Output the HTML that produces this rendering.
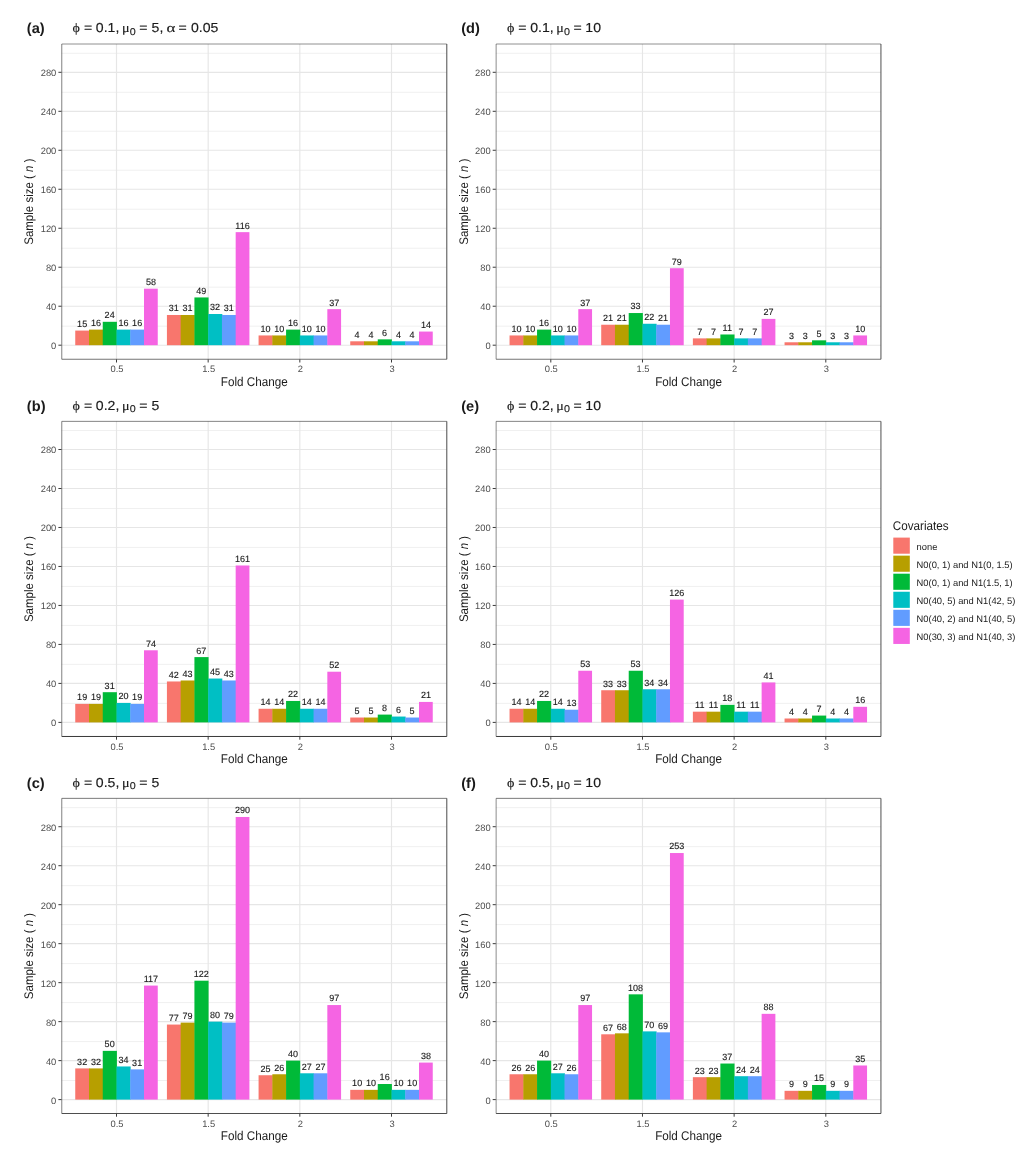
<!DOCTYPE html>
<html><head><meta charset="utf-8"><title>Sample size figure</title><style>
html,body{margin:0;padding:0;background:#fff;}
svg{will-change:transform;}
svg{display:block;}
text{font-family:"Liberation Sans",sans-serif;text-rendering:geometricPrecision;}
.gmin{stroke:#f0f0f0;stroke-width:1;}
.gmaj{stroke:#e6e6e6;stroke-width:1.15;}
.border{fill:none;stroke:#333;stroke-width:1.1;}
.tick{stroke:#3a3a3a;stroke-width:1.0;}
.bl{font-size:9.0px;fill:#1a1a1a;stroke:#1a1a1a;stroke-width:0.13px;stroke-linejoin:round;text-anchor:middle;}
.yl{font-size:9.35px;fill:#4d4d4d;text-anchor:end;}
.xl{font-size:9.35px;fill:#4d4d4d;text-anchor:middle;}
.axt{font-size:11.7px;fill:#1a1a1a;text-anchor:middle;}
.ttl{fill:#1a1a1a;stroke:#1a1a1a;stroke-width:0.15px;stroke-linejoin:round;}
.gr{font-family:"Liberation Serif",serif;}
.sub{font-size:10.15px;}
.tag{font-size:14.6px;font-weight:bold;fill:#1a1a1a;}
.legt{font-size:11.7px;fill:#1a1a1a;}
.legl{font-size:9.35px;fill:#1a1a1a;}
</style></head>
<body><svg width="1036" height="1156" viewBox="0 0 1036 1156">
<rect width="1036" height="1156" fill="#fff"/>
<line x1="61.5" x2="446.5" y1="326.16" y2="326.16" class="gmin"/>
<line x1="61.5" x2="446.5" y1="287.17" y2="287.17" class="gmin"/>
<line x1="61.5" x2="446.5" y1="248.19" y2="248.19" class="gmin"/>
<line x1="61.5" x2="446.5" y1="209.21" y2="209.21" class="gmin"/>
<line x1="61.5" x2="446.5" y1="170.22" y2="170.22" class="gmin"/>
<line x1="61.5" x2="446.5" y1="131.24" y2="131.24" class="gmin"/>
<line x1="61.5" x2="446.5" y1="92.25" y2="92.25" class="gmin"/>
<line x1="61.5" x2="446.5" y1="53.27" y2="53.27" class="gmin"/>
<line x1="61.5" x2="446.5" y1="345.2" y2="345.2" class="gmaj"/>
<line x1="61.5" x2="446.5" y1="306.22" y2="306.22" class="gmaj"/>
<line x1="61.5" x2="446.5" y1="267.23" y2="267.23" class="gmaj"/>
<line x1="61.5" x2="446.5" y1="228.25" y2="228.25" class="gmaj"/>
<line x1="61.5" x2="446.5" y1="189.26" y2="189.26" class="gmaj"/>
<line x1="61.5" x2="446.5" y1="150.28" y2="150.28" class="gmaj"/>
<line x1="61.5" x2="446.5" y1="111.3" y2="111.3" class="gmaj"/>
<line x1="61.5" x2="446.5" y1="72.31" y2="72.31" class="gmaj"/>
<line x1="116.5" x2="116.5" y1="43.9" y2="359.4" class="gmaj"/>
<line x1="208.17" x2="208.17" y1="43.9" y2="359.4" class="gmaj"/>
<line x1="299.83" x2="299.83" y1="43.9" y2="359.4" class="gmaj"/>
<line x1="391.5" x2="391.5" y1="43.9" y2="359.4" class="gmaj"/>
<rect x="75.25" y="330.58" width="14.15" height="14.62" fill="#F8766D"/>
<rect x="89" y="329.61" width="14.15" height="15.59" fill="#B79F00"/>
<rect x="102.75" y="321.81" width="14.15" height="23.39" fill="#00BA38"/>
<rect x="116.5" y="329.61" width="14.15" height="15.59" fill="#00BFC4"/>
<rect x="130.25" y="329.61" width="14.15" height="15.59" fill="#619CFF"/>
<rect x="144" y="288.67" width="13.75" height="56.53" fill="#F564E3"/>
<rect x="166.92" y="314.99" width="14.15" height="30.21" fill="#F8766D"/>
<rect x="180.67" y="314.99" width="14.15" height="30.21" fill="#B79F00"/>
<rect x="194.42" y="297.44" width="14.15" height="47.76" fill="#00BA38"/>
<rect x="208.17" y="314.01" width="14.15" height="31.19" fill="#00BFC4"/>
<rect x="221.92" y="314.99" width="14.15" height="30.21" fill="#619CFF"/>
<rect x="235.67" y="232.15" width="13.75" height="113.05" fill="#F564E3"/>
<rect x="258.58" y="335.45" width="14.15" height="9.75" fill="#F8766D"/>
<rect x="272.33" y="335.45" width="14.15" height="9.75" fill="#B79F00"/>
<rect x="286.08" y="329.61" width="14.15" height="15.59" fill="#00BA38"/>
<rect x="299.83" y="335.45" width="14.15" height="9.75" fill="#00BFC4"/>
<rect x="313.58" y="335.45" width="14.15" height="9.75" fill="#619CFF"/>
<rect x="327.33" y="309.14" width="13.75" height="36.06" fill="#F564E3"/>
<rect x="350.25" y="341.3" width="14.15" height="3.9" fill="#F8766D"/>
<rect x="364" y="341.3" width="14.15" height="3.9" fill="#B79F00"/>
<rect x="377.75" y="339.35" width="14.15" height="5.85" fill="#00BA38"/>
<rect x="391.5" y="341.3" width="14.15" height="3.9" fill="#00BFC4"/>
<rect x="405.25" y="341.3" width="14.15" height="3.9" fill="#619CFF"/>
<rect x="419" y="331.56" width="13.75" height="13.64" fill="#F564E3"/>
<text transform="translate(82.12,326.98) scale(1,1.0)" class="bl">15</text>
<text transform="translate(95.88,326.01) scale(1,1.0)" class="bl">16</text>
<text transform="translate(109.62,318.21) scale(1,1.0)" class="bl">24</text>
<text transform="translate(123.38,326.01) scale(1,1.0)" class="bl">16</text>
<text transform="translate(137.12,326.01) scale(1,1.0)" class="bl">16</text>
<text transform="translate(150.88,285.07) scale(1,1.0)" class="bl">58</text>
<text transform="translate(173.79,311.39) scale(1,1.0)" class="bl">31</text>
<text transform="translate(187.54,311.39) scale(1,1.0)" class="bl">31</text>
<text transform="translate(201.29,293.84) scale(1,1.0)" class="bl">49</text>
<text transform="translate(215.04,310.41) scale(1,1.0)" class="bl">32</text>
<text transform="translate(228.79,311.39) scale(1,1.0)" class="bl">31</text>
<text transform="translate(242.54,228.55) scale(1,1.0)" class="bl">116</text>
<text transform="translate(265.46,331.85) scale(1,1.0)" class="bl">10</text>
<text transform="translate(279.21,331.85) scale(1,1.0)" class="bl">10</text>
<text transform="translate(292.96,326.01) scale(1,1.0)" class="bl">16</text>
<text transform="translate(306.71,331.85) scale(1,1.0)" class="bl">10</text>
<text transform="translate(320.46,331.85) scale(1,1.0)" class="bl">10</text>
<text transform="translate(334.21,305.54) scale(1,1.0)" class="bl">37</text>
<text transform="translate(357.12,337.7) scale(1,1.0)" class="bl">4</text>
<text transform="translate(370.88,337.7) scale(1,1.0)" class="bl">4</text>
<text transform="translate(384.62,335.75) scale(1,1.0)" class="bl">6</text>
<text transform="translate(398.38,337.7) scale(1,1.0)" class="bl">4</text>
<text transform="translate(412.12,337.7) scale(1,1.0)" class="bl">4</text>
<text transform="translate(425.88,327.96) scale(1,1.0)" class="bl">14</text>
<line x1="61.78" x2="61.78" y1="44" y2="359.25" stroke="#333" stroke-width="0.62"/>
<line x1="446.8" x2="446.8" y1="44" y2="359.25" stroke="#333" stroke-width="0.89"/>
<line x1="61.78" x2="446.8" y1="44" y2="44" stroke="#333" stroke-width="0.55"/>
<line x1="61.78" x2="446.8" y1="359.25" y2="359.25" stroke="#333" stroke-width="0.68"/>
<line x1="58.4" x2="61.5" y1="345.2" y2="345.2" class="tick"/>
<text transform="translate(56.3,349.1) scale(1,1.0)" class="yl">0</text>
<line x1="58.4" x2="61.5" y1="306.22" y2="306.22" class="tick"/>
<text transform="translate(56.3,310.12) scale(1,1.0)" class="yl">40</text>
<line x1="58.4" x2="61.5" y1="267.23" y2="267.23" class="tick"/>
<text transform="translate(56.3,271.13) scale(1,1.0)" class="yl">80</text>
<line x1="58.4" x2="61.5" y1="228.25" y2="228.25" class="tick"/>
<text transform="translate(56.3,232.15) scale(1,1.0)" class="yl">120</text>
<line x1="58.4" x2="61.5" y1="189.26" y2="189.26" class="tick"/>
<text transform="translate(56.3,193.16) scale(1,1.0)" class="yl">160</text>
<line x1="58.4" x2="61.5" y1="150.28" y2="150.28" class="tick"/>
<text transform="translate(56.3,154.18) scale(1,1.0)" class="yl">200</text>
<line x1="58.4" x2="61.5" y1="111.3" y2="111.3" class="tick"/>
<text transform="translate(56.3,115.2) scale(1,1.0)" class="yl">240</text>
<line x1="58.4" x2="61.5" y1="72.31" y2="72.31" class="tick"/>
<text transform="translate(56.3,76.21) scale(1,1.0)" class="yl">280</text>
<line x1="116.5" x2="116.5" y1="359.4" y2="362.5" class="tick"/>
<text transform="translate(117,372.3) scale(1,1.0)" class="xl">0.5</text>
<line x1="208.17" x2="208.17" y1="359.4" y2="362.5" class="tick"/>
<text transform="translate(208.67,372.3) scale(1,1.0)" class="xl">1.5</text>
<line x1="299.83" x2="299.83" y1="359.4" y2="362.5" class="tick"/>
<text transform="translate(300.33,372.3) scale(1,1.0)" class="xl">2</text>
<line x1="391.5" x2="391.5" y1="359.4" y2="362.5" class="tick"/>
<text transform="translate(392,372.3) scale(1,1.0)" class="xl">3</text>
<text transform="translate(254.3,385.9) scale(1,1.08)" class="axt">Fold Change</text>
<text transform="translate(33.4,201.65) rotate(-90) scale(1,1.08)" class="axt" style="font-size:11.5px">Sample size ( <tspan font-style="italic">n</tspan> )</text>
<text transform="translate(72.62,32.3) scale(1,0.92)" style="font-family:'Liberation Serif',serif;font-size:14.10px" class="ttl">ϕ</text>
<text transform="translate(83.91,32.3) scale(1,0.92)" style="font-family:'Liberation Sans',sans-serif;font-size:14.10px" class="ttl">=</text>
<text transform="translate(95.85,32.3) scale(1,0.92)" style="font-family:'Liberation Sans',sans-serif;font-size:14.10px" class="ttl">0.1,</text>
<text transform="translate(122.06,32.3) scale(1,0.92)" style="font-family:'Liberation Serif',serif;font-size:14.10px" class="ttl">μ</text>
<text transform="translate(129.78,34.7) scale(1,0.92)" style="font-family:'Liberation Sans',sans-serif;font-size:10.72px" class="ttl">0</text>
<text transform="translate(139.21,32.3) scale(1,0.92)" style="font-family:'Liberation Sans',sans-serif;font-size:14.10px" class="ttl">=</text>
<text transform="translate(151.54,32.3) scale(1,0.92)" style="font-family:'Liberation Sans',sans-serif;font-size:14.10px" class="ttl">5,</text>
<text transform="translate(166.56,32.3) scale(1.2,0.92)" style="font-family:'Liberation Serif',serif;font-size:14.10px" class="ttl">α</text>
<text transform="translate(178.61,32.3) scale(1,0.92)" style="font-family:'Liberation Sans',sans-serif;font-size:14.10px" class="ttl">=</text>
<text transform="translate(190.95,32.3) scale(1,0.92)" style="font-family:'Liberation Sans',sans-serif;font-size:14.10px" class="ttl">0.05</text>
<text x="26.87" y="33.2" class="tag">(a)</text>
<line x1="61.5" x2="446.5" y1="703.36" y2="703.36" class="gmin"/>
<line x1="61.5" x2="446.5" y1="664.37" y2="664.37" class="gmin"/>
<line x1="61.5" x2="446.5" y1="625.39" y2="625.39" class="gmin"/>
<line x1="61.5" x2="446.5" y1="586.41" y2="586.41" class="gmin"/>
<line x1="61.5" x2="446.5" y1="547.42" y2="547.42" class="gmin"/>
<line x1="61.5" x2="446.5" y1="508.44" y2="508.44" class="gmin"/>
<line x1="61.5" x2="446.5" y1="469.45" y2="469.45" class="gmin"/>
<line x1="61.5" x2="446.5" y1="430.47" y2="430.47" class="gmin"/>
<line x1="61.5" x2="446.5" y1="722.4" y2="722.4" class="gmaj"/>
<line x1="61.5" x2="446.5" y1="683.42" y2="683.42" class="gmaj"/>
<line x1="61.5" x2="446.5" y1="644.43" y2="644.43" class="gmaj"/>
<line x1="61.5" x2="446.5" y1="605.45" y2="605.45" class="gmaj"/>
<line x1="61.5" x2="446.5" y1="566.46" y2="566.46" class="gmaj"/>
<line x1="61.5" x2="446.5" y1="527.48" y2="527.48" class="gmaj"/>
<line x1="61.5" x2="446.5" y1="488.5" y2="488.5" class="gmaj"/>
<line x1="61.5" x2="446.5" y1="449.51" y2="449.51" class="gmaj"/>
<line x1="116.5" x2="116.5" y1="421.3" y2="736.6" class="gmaj"/>
<line x1="208.17" x2="208.17" y1="421.3" y2="736.6" class="gmaj"/>
<line x1="299.83" x2="299.83" y1="421.3" y2="736.6" class="gmaj"/>
<line x1="391.5" x2="391.5" y1="421.3" y2="736.6" class="gmaj"/>
<rect x="75.25" y="703.88" width="14.15" height="18.52" fill="#F8766D"/>
<rect x="89" y="703.88" width="14.15" height="18.52" fill="#B79F00"/>
<rect x="102.75" y="692.19" width="14.15" height="30.21" fill="#00BA38"/>
<rect x="116.5" y="702.91" width="14.15" height="19.49" fill="#00BFC4"/>
<rect x="130.25" y="703.88" width="14.15" height="18.52" fill="#619CFF"/>
<rect x="144" y="650.28" width="13.75" height="72.12" fill="#F564E3"/>
<rect x="166.92" y="681.47" width="14.15" height="40.93" fill="#F8766D"/>
<rect x="180.67" y="680.49" width="14.15" height="41.91" fill="#B79F00"/>
<rect x="194.42" y="657.1" width="14.15" height="65.3" fill="#00BA38"/>
<rect x="208.17" y="678.54" width="14.15" height="43.86" fill="#00BFC4"/>
<rect x="221.92" y="680.49" width="14.15" height="41.91" fill="#619CFF"/>
<rect x="235.67" y="565.49" width="13.75" height="156.91" fill="#F564E3"/>
<rect x="258.58" y="708.76" width="14.15" height="13.64" fill="#F8766D"/>
<rect x="272.33" y="708.76" width="14.15" height="13.64" fill="#B79F00"/>
<rect x="286.08" y="700.96" width="14.15" height="21.44" fill="#00BA38"/>
<rect x="299.83" y="708.76" width="14.15" height="13.64" fill="#00BFC4"/>
<rect x="313.58" y="708.76" width="14.15" height="13.64" fill="#619CFF"/>
<rect x="327.33" y="671.72" width="13.75" height="50.68" fill="#F564E3"/>
<rect x="350.25" y="717.53" width="14.15" height="4.87" fill="#F8766D"/>
<rect x="364" y="717.53" width="14.15" height="4.87" fill="#B79F00"/>
<rect x="377.75" y="714.6" width="14.15" height="7.8" fill="#00BA38"/>
<rect x="391.5" y="716.55" width="14.15" height="5.85" fill="#00BFC4"/>
<rect x="405.25" y="717.53" width="14.15" height="4.87" fill="#619CFF"/>
<rect x="419" y="701.93" width="13.75" height="20.47" fill="#F564E3"/>
<text transform="translate(82.12,700.28) scale(1,1.0)" class="bl">19</text>
<text transform="translate(95.88,700.28) scale(1,1.0)" class="bl">19</text>
<text transform="translate(109.62,688.59) scale(1,1.0)" class="bl">31</text>
<text transform="translate(123.38,699.31) scale(1,1.0)" class="bl">20</text>
<text transform="translate(137.12,700.28) scale(1,1.0)" class="bl">19</text>
<text transform="translate(150.88,646.68) scale(1,1.0)" class="bl">74</text>
<text transform="translate(173.79,677.87) scale(1,1.0)" class="bl">42</text>
<text transform="translate(187.54,676.89) scale(1,1.0)" class="bl">43</text>
<text transform="translate(201.29,653.5) scale(1,1.0)" class="bl">67</text>
<text transform="translate(215.04,674.94) scale(1,1.0)" class="bl">45</text>
<text transform="translate(228.79,676.89) scale(1,1.0)" class="bl">43</text>
<text transform="translate(242.54,561.89) scale(1,1.0)" class="bl">161</text>
<text transform="translate(265.46,705.16) scale(1,1.0)" class="bl">14</text>
<text transform="translate(279.21,705.16) scale(1,1.0)" class="bl">14</text>
<text transform="translate(292.96,697.36) scale(1,1.0)" class="bl">22</text>
<text transform="translate(306.71,705.16) scale(1,1.0)" class="bl">14</text>
<text transform="translate(320.46,705.16) scale(1,1.0)" class="bl">14</text>
<text transform="translate(334.21,668.12) scale(1,1.0)" class="bl">52</text>
<text transform="translate(357.12,713.93) scale(1,1.0)" class="bl">5</text>
<text transform="translate(370.88,713.93) scale(1,1.0)" class="bl">5</text>
<text transform="translate(384.62,711) scale(1,1.0)" class="bl">8</text>
<text transform="translate(398.38,712.95) scale(1,1.0)" class="bl">6</text>
<text transform="translate(412.12,713.93) scale(1,1.0)" class="bl">5</text>
<text transform="translate(425.88,698.33) scale(1,1.0)" class="bl">21</text>
<line x1="61.78" x2="61.78" y1="421.37" y2="736.47" stroke="#333" stroke-width="0.62"/>
<line x1="446.8" x2="446.8" y1="421.37" y2="736.47" stroke="#333" stroke-width="0.89"/>
<line x1="61.78" x2="446.8" y1="421.37" y2="421.37" stroke="#333" stroke-width="0.6"/>
<line x1="61.78" x2="446.8" y1="736.47" y2="736.47" stroke="#333" stroke-width="0.98"/>
<line x1="58.4" x2="61.5" y1="722.4" y2="722.4" class="tick"/>
<text transform="translate(56.3,726.3) scale(1,1.0)" class="yl">0</text>
<line x1="58.4" x2="61.5" y1="683.42" y2="683.42" class="tick"/>
<text transform="translate(56.3,687.32) scale(1,1.0)" class="yl">40</text>
<line x1="58.4" x2="61.5" y1="644.43" y2="644.43" class="tick"/>
<text transform="translate(56.3,648.33) scale(1,1.0)" class="yl">80</text>
<line x1="58.4" x2="61.5" y1="605.45" y2="605.45" class="tick"/>
<text transform="translate(56.3,609.35) scale(1,1.0)" class="yl">120</text>
<line x1="58.4" x2="61.5" y1="566.46" y2="566.46" class="tick"/>
<text transform="translate(56.3,570.36) scale(1,1.0)" class="yl">160</text>
<line x1="58.4" x2="61.5" y1="527.48" y2="527.48" class="tick"/>
<text transform="translate(56.3,531.38) scale(1,1.0)" class="yl">200</text>
<line x1="58.4" x2="61.5" y1="488.5" y2="488.5" class="tick"/>
<text transform="translate(56.3,492.4) scale(1,1.0)" class="yl">240</text>
<line x1="58.4" x2="61.5" y1="449.51" y2="449.51" class="tick"/>
<text transform="translate(56.3,453.41) scale(1,1.0)" class="yl">280</text>
<line x1="116.5" x2="116.5" y1="736.6" y2="739.7" class="tick"/>
<text transform="translate(117,749.5) scale(1,1.0)" class="xl">0.5</text>
<line x1="208.17" x2="208.17" y1="736.6" y2="739.7" class="tick"/>
<text transform="translate(208.67,749.5) scale(1,1.0)" class="xl">1.5</text>
<line x1="299.83" x2="299.83" y1="736.6" y2="739.7" class="tick"/>
<text transform="translate(300.33,749.5) scale(1,1.0)" class="xl">2</text>
<line x1="391.5" x2="391.5" y1="736.6" y2="739.7" class="tick"/>
<text transform="translate(392,749.5) scale(1,1.0)" class="xl">3</text>
<text transform="translate(254.3,763.1) scale(1,1.08)" class="axt">Fold Change</text>
<text transform="translate(33.4,578.95) rotate(-90) scale(1,1.08)" class="axt" style="font-size:11.5px">Sample size ( <tspan font-style="italic">n</tspan> )</text>
<text transform="translate(72.62,409.7) scale(1,0.92)" style="font-family:'Liberation Serif',serif;font-size:14.10px" class="ttl">ϕ</text>
<text transform="translate(83.91,409.7) scale(1,0.92)" style="font-family:'Liberation Sans',sans-serif;font-size:14.10px" class="ttl">=</text>
<text transform="translate(95.85,409.7) scale(1,0.92)" style="font-family:'Liberation Sans',sans-serif;font-size:14.10px" class="ttl">0.2,</text>
<text transform="translate(122.06,409.7) scale(1,0.92)" style="font-family:'Liberation Serif',serif;font-size:14.10px" class="ttl">μ</text>
<text transform="translate(129.78,412.1) scale(1,0.92)" style="font-family:'Liberation Sans',sans-serif;font-size:10.72px" class="ttl">0</text>
<text transform="translate(139.21,409.7) scale(1,0.92)" style="font-family:'Liberation Sans',sans-serif;font-size:14.10px" class="ttl">=</text>
<text transform="translate(151.54,409.7) scale(1,0.92)" style="font-family:'Liberation Sans',sans-serif;font-size:14.10px" class="ttl">5</text>
<text x="26.87" y="410.6" class="tag">(b)</text>
<line x1="61.5" x2="446.5" y1="1080.56" y2="1080.56" class="gmin"/>
<line x1="61.5" x2="446.5" y1="1041.57" y2="1041.57" class="gmin"/>
<line x1="61.5" x2="446.5" y1="1002.59" y2="1002.59" class="gmin"/>
<line x1="61.5" x2="446.5" y1="963.61" y2="963.61" class="gmin"/>
<line x1="61.5" x2="446.5" y1="924.62" y2="924.62" class="gmin"/>
<line x1="61.5" x2="446.5" y1="885.64" y2="885.64" class="gmin"/>
<line x1="61.5" x2="446.5" y1="846.65" y2="846.65" class="gmin"/>
<line x1="61.5" x2="446.5" y1="807.67" y2="807.67" class="gmin"/>
<line x1="61.5" x2="446.5" y1="1099.6" y2="1099.6" class="gmaj"/>
<line x1="61.5" x2="446.5" y1="1060.62" y2="1060.62" class="gmaj"/>
<line x1="61.5" x2="446.5" y1="1021.63" y2="1021.63" class="gmaj"/>
<line x1="61.5" x2="446.5" y1="982.65" y2="982.65" class="gmaj"/>
<line x1="61.5" x2="446.5" y1="943.66" y2="943.66" class="gmaj"/>
<line x1="61.5" x2="446.5" y1="904.68" y2="904.68" class="gmaj"/>
<line x1="61.5" x2="446.5" y1="865.7" y2="865.7" class="gmaj"/>
<line x1="61.5" x2="446.5" y1="826.71" y2="826.71" class="gmaj"/>
<line x1="116.5" x2="116.5" y1="798.5" y2="1113.6" class="gmaj"/>
<line x1="208.17" x2="208.17" y1="798.5" y2="1113.6" class="gmaj"/>
<line x1="299.83" x2="299.83" y1="798.5" y2="1113.6" class="gmaj"/>
<line x1="391.5" x2="391.5" y1="798.5" y2="1113.6" class="gmaj"/>
<rect x="75.25" y="1068.41" width="14.15" height="31.19" fill="#F8766D"/>
<rect x="89" y="1068.41" width="14.15" height="31.19" fill="#B79F00"/>
<rect x="102.75" y="1050.87" width="14.15" height="48.73" fill="#00BA38"/>
<rect x="116.5" y="1066.46" width="14.15" height="33.14" fill="#00BFC4"/>
<rect x="130.25" y="1069.39" width="14.15" height="30.21" fill="#619CFF"/>
<rect x="144" y="985.57" width="13.75" height="114.03" fill="#F564E3"/>
<rect x="166.92" y="1024.56" width="14.15" height="75.04" fill="#F8766D"/>
<rect x="180.67" y="1022.61" width="14.15" height="76.99" fill="#B79F00"/>
<rect x="194.42" y="980.7" width="14.15" height="118.9" fill="#00BA38"/>
<rect x="208.17" y="1021.63" width="14.15" height="77.97" fill="#00BFC4"/>
<rect x="221.92" y="1022.61" width="14.15" height="76.99" fill="#619CFF"/>
<rect x="235.67" y="816.97" width="13.75" height="282.63" fill="#F564E3"/>
<rect x="258.58" y="1075.23" width="14.15" height="24.37" fill="#F8766D"/>
<rect x="272.33" y="1074.26" width="14.15" height="25.34" fill="#B79F00"/>
<rect x="286.08" y="1060.62" width="14.15" height="38.98" fill="#00BA38"/>
<rect x="299.83" y="1073.29" width="14.15" height="26.31" fill="#00BFC4"/>
<rect x="313.58" y="1073.29" width="14.15" height="26.31" fill="#619CFF"/>
<rect x="327.33" y="1005.06" width="13.75" height="94.54" fill="#F564E3"/>
<rect x="350.25" y="1089.85" width="14.15" height="9.75" fill="#F8766D"/>
<rect x="364" y="1089.85" width="14.15" height="9.75" fill="#B79F00"/>
<rect x="377.75" y="1084.01" width="14.15" height="15.59" fill="#00BA38"/>
<rect x="391.5" y="1089.85" width="14.15" height="9.75" fill="#00BFC4"/>
<rect x="405.25" y="1089.85" width="14.15" height="9.75" fill="#619CFF"/>
<rect x="419" y="1062.57" width="13.75" height="37.03" fill="#F564E3"/>
<text transform="translate(82.12,1064.81) scale(1,1.0)" class="bl">32</text>
<text transform="translate(95.88,1064.81) scale(1,1.0)" class="bl">32</text>
<text transform="translate(109.62,1047.27) scale(1,1.0)" class="bl">50</text>
<text transform="translate(123.38,1062.86) scale(1,1.0)" class="bl">34</text>
<text transform="translate(137.12,1065.79) scale(1,1.0)" class="bl">31</text>
<text transform="translate(150.88,981.97) scale(1,1.0)" class="bl">117</text>
<text transform="translate(173.79,1020.96) scale(1,1.0)" class="bl">77</text>
<text transform="translate(187.54,1019.01) scale(1,1.0)" class="bl">79</text>
<text transform="translate(201.29,977.1) scale(1,1.0)" class="bl">122</text>
<text transform="translate(215.04,1018.03) scale(1,1.0)" class="bl">80</text>
<text transform="translate(228.79,1019.01) scale(1,1.0)" class="bl">79</text>
<text transform="translate(242.54,813.37) scale(1,1.0)" class="bl">290</text>
<text transform="translate(265.46,1071.63) scale(1,1.0)" class="bl">25</text>
<text transform="translate(279.21,1070.66) scale(1,1.0)" class="bl">26</text>
<text transform="translate(292.96,1057.02) scale(1,1.0)" class="bl">40</text>
<text transform="translate(306.71,1069.69) scale(1,1.0)" class="bl">27</text>
<text transform="translate(320.46,1069.69) scale(1,1.0)" class="bl">27</text>
<text transform="translate(334.21,1001.46) scale(1,1.0)" class="bl">97</text>
<text transform="translate(357.12,1086.25) scale(1,1.0)" class="bl">10</text>
<text transform="translate(370.88,1086.25) scale(1,1.0)" class="bl">10</text>
<text transform="translate(384.62,1080.41) scale(1,1.0)" class="bl">16</text>
<text transform="translate(398.38,1086.25) scale(1,1.0)" class="bl">10</text>
<text transform="translate(412.12,1086.25) scale(1,1.0)" class="bl">10</text>
<text transform="translate(425.88,1058.97) scale(1,1.0)" class="bl">38</text>
<line x1="61.78" x2="61.78" y1="798.36" y2="1113.5" stroke="#333" stroke-width="0.62"/>
<line x1="446.8" x2="446.8" y1="798.36" y2="1113.5" stroke="#333" stroke-width="0.89"/>
<line x1="61.78" x2="446.8" y1="798.36" y2="798.36" stroke="#333" stroke-width="0.65"/>
<line x1="61.78" x2="446.8" y1="1113.5" y2="1113.5" stroke="#333" stroke-width="0.87"/>
<line x1="58.4" x2="61.5" y1="1099.6" y2="1099.6" class="tick"/>
<text transform="translate(56.3,1103.5) scale(1,1.0)" class="yl">0</text>
<line x1="58.4" x2="61.5" y1="1060.62" y2="1060.62" class="tick"/>
<text transform="translate(56.3,1064.52) scale(1,1.0)" class="yl">40</text>
<line x1="58.4" x2="61.5" y1="1021.63" y2="1021.63" class="tick"/>
<text transform="translate(56.3,1025.53) scale(1,1.0)" class="yl">80</text>
<line x1="58.4" x2="61.5" y1="982.65" y2="982.65" class="tick"/>
<text transform="translate(56.3,986.55) scale(1,1.0)" class="yl">120</text>
<line x1="58.4" x2="61.5" y1="943.66" y2="943.66" class="tick"/>
<text transform="translate(56.3,947.56) scale(1,1.0)" class="yl">160</text>
<line x1="58.4" x2="61.5" y1="904.68" y2="904.68" class="tick"/>
<text transform="translate(56.3,908.58) scale(1,1.0)" class="yl">200</text>
<line x1="58.4" x2="61.5" y1="865.7" y2="865.7" class="tick"/>
<text transform="translate(56.3,869.6) scale(1,1.0)" class="yl">240</text>
<line x1="58.4" x2="61.5" y1="826.71" y2="826.71" class="tick"/>
<text transform="translate(56.3,830.61) scale(1,1.0)" class="yl">280</text>
<line x1="116.5" x2="116.5" y1="1113.6" y2="1116.7" class="tick"/>
<text transform="translate(117,1126.5) scale(1,1.0)" class="xl">0.5</text>
<line x1="208.17" x2="208.17" y1="1113.6" y2="1116.7" class="tick"/>
<text transform="translate(208.67,1126.5) scale(1,1.0)" class="xl">1.5</text>
<line x1="299.83" x2="299.83" y1="1113.6" y2="1116.7" class="tick"/>
<text transform="translate(300.33,1126.5) scale(1,1.0)" class="xl">2</text>
<line x1="391.5" x2="391.5" y1="1113.6" y2="1116.7" class="tick"/>
<text transform="translate(392,1126.5) scale(1,1.0)" class="xl">3</text>
<text transform="translate(254.3,1140.1) scale(1,1.08)" class="axt">Fold Change</text>
<text transform="translate(33.4,956.05) rotate(-90) scale(1,1.08)" class="axt" style="font-size:11.5px">Sample size ( <tspan font-style="italic">n</tspan> )</text>
<text transform="translate(72.62,786.9) scale(1,0.92)" style="font-family:'Liberation Serif',serif;font-size:14.10px" class="ttl">ϕ</text>
<text transform="translate(83.91,786.9) scale(1,0.92)" style="font-family:'Liberation Sans',sans-serif;font-size:14.10px" class="ttl">=</text>
<text transform="translate(95.85,786.9) scale(1,0.92)" style="font-family:'Liberation Sans',sans-serif;font-size:14.10px" class="ttl">0.5,</text>
<text transform="translate(122.06,786.9) scale(1,0.92)" style="font-family:'Liberation Serif',serif;font-size:14.10px" class="ttl">μ</text>
<text transform="translate(129.78,789.3) scale(1,0.92)" style="font-family:'Liberation Sans',sans-serif;font-size:10.72px" class="ttl">0</text>
<text transform="translate(139.21,786.9) scale(1,0.92)" style="font-family:'Liberation Sans',sans-serif;font-size:14.10px" class="ttl">=</text>
<text transform="translate(151.54,786.9) scale(1,0.92)" style="font-family:'Liberation Sans',sans-serif;font-size:14.10px" class="ttl">5</text>
<text x="26.87" y="787.8" class="tag">(c)</text>
<line x1="495.8" x2="880.8" y1="326.16" y2="326.16" class="gmin"/>
<line x1="495.8" x2="880.8" y1="287.17" y2="287.17" class="gmin"/>
<line x1="495.8" x2="880.8" y1="248.19" y2="248.19" class="gmin"/>
<line x1="495.8" x2="880.8" y1="209.21" y2="209.21" class="gmin"/>
<line x1="495.8" x2="880.8" y1="170.22" y2="170.22" class="gmin"/>
<line x1="495.8" x2="880.8" y1="131.24" y2="131.24" class="gmin"/>
<line x1="495.8" x2="880.8" y1="92.25" y2="92.25" class="gmin"/>
<line x1="495.8" x2="880.8" y1="53.27" y2="53.27" class="gmin"/>
<line x1="495.8" x2="880.8" y1="345.2" y2="345.2" class="gmaj"/>
<line x1="495.8" x2="880.8" y1="306.22" y2="306.22" class="gmaj"/>
<line x1="495.8" x2="880.8" y1="267.23" y2="267.23" class="gmaj"/>
<line x1="495.8" x2="880.8" y1="228.25" y2="228.25" class="gmaj"/>
<line x1="495.8" x2="880.8" y1="189.26" y2="189.26" class="gmaj"/>
<line x1="495.8" x2="880.8" y1="150.28" y2="150.28" class="gmaj"/>
<line x1="495.8" x2="880.8" y1="111.3" y2="111.3" class="gmaj"/>
<line x1="495.8" x2="880.8" y1="72.31" y2="72.31" class="gmaj"/>
<line x1="550.8" x2="550.8" y1="43.9" y2="359.4" class="gmaj"/>
<line x1="642.47" x2="642.47" y1="43.9" y2="359.4" class="gmaj"/>
<line x1="734.13" x2="734.13" y1="43.9" y2="359.4" class="gmaj"/>
<line x1="825.8" x2="825.8" y1="43.9" y2="359.4" class="gmaj"/>
<rect x="509.55" y="335.45" width="14.15" height="9.75" fill="#F8766D"/>
<rect x="523.3" y="335.45" width="14.15" height="9.75" fill="#B79F00"/>
<rect x="537.05" y="329.61" width="14.15" height="15.59" fill="#00BA38"/>
<rect x="550.8" y="335.45" width="14.15" height="9.75" fill="#00BFC4"/>
<rect x="564.55" y="335.45" width="14.15" height="9.75" fill="#619CFF"/>
<rect x="578.3" y="309.14" width="13.75" height="36.06" fill="#F564E3"/>
<rect x="601.22" y="324.73" width="14.15" height="20.47" fill="#F8766D"/>
<rect x="614.97" y="324.73" width="14.15" height="20.47" fill="#B79F00"/>
<rect x="628.72" y="313.04" width="14.15" height="32.16" fill="#00BA38"/>
<rect x="642.47" y="323.76" width="14.15" height="21.44" fill="#00BFC4"/>
<rect x="656.22" y="324.73" width="14.15" height="20.47" fill="#619CFF"/>
<rect x="669.97" y="268.21" width="13.75" height="76.99" fill="#F564E3"/>
<rect x="692.88" y="338.38" width="14.15" height="6.82" fill="#F8766D"/>
<rect x="706.63" y="338.38" width="14.15" height="6.82" fill="#B79F00"/>
<rect x="720.38" y="334.48" width="14.15" height="10.72" fill="#00BA38"/>
<rect x="734.13" y="338.38" width="14.15" height="6.82" fill="#00BFC4"/>
<rect x="747.88" y="338.38" width="14.15" height="6.82" fill="#619CFF"/>
<rect x="761.63" y="318.89" width="13.75" height="26.31" fill="#F564E3"/>
<rect x="784.55" y="342.28" width="14.15" height="2.92" fill="#F8766D"/>
<rect x="798.3" y="342.28" width="14.15" height="2.92" fill="#B79F00"/>
<rect x="812.05" y="340.33" width="14.15" height="4.87" fill="#00BA38"/>
<rect x="825.8" y="342.28" width="14.15" height="2.92" fill="#00BFC4"/>
<rect x="839.55" y="342.28" width="14.15" height="2.92" fill="#619CFF"/>
<rect x="853.3" y="335.45" width="13.75" height="9.75" fill="#F564E3"/>
<text transform="translate(516.42,331.85) scale(1,1.0)" class="bl">10</text>
<text transform="translate(530.17,331.85) scale(1,1.0)" class="bl">10</text>
<text transform="translate(543.92,326.01) scale(1,1.0)" class="bl">16</text>
<text transform="translate(557.67,331.85) scale(1,1.0)" class="bl">10</text>
<text transform="translate(571.42,331.85) scale(1,1.0)" class="bl">10</text>
<text transform="translate(585.17,305.54) scale(1,1.0)" class="bl">37</text>
<text transform="translate(608.09,321.13) scale(1,1.0)" class="bl">21</text>
<text transform="translate(621.84,321.13) scale(1,1.0)" class="bl">21</text>
<text transform="translate(635.59,309.44) scale(1,1.0)" class="bl">33</text>
<text transform="translate(649.34,320.16) scale(1,1.0)" class="bl">22</text>
<text transform="translate(663.09,321.13) scale(1,1.0)" class="bl">21</text>
<text transform="translate(676.84,264.61) scale(1,1.0)" class="bl">79</text>
<text transform="translate(699.76,334.78) scale(1,1.0)" class="bl">7</text>
<text transform="translate(713.51,334.78) scale(1,1.0)" class="bl">7</text>
<text transform="translate(727.26,330.88) scale(1,1.0)" class="bl">11</text>
<text transform="translate(741.01,334.78) scale(1,1.0)" class="bl">7</text>
<text transform="translate(754.76,334.78) scale(1,1.0)" class="bl">7</text>
<text transform="translate(768.51,315.29) scale(1,1.0)" class="bl">27</text>
<text transform="translate(791.42,338.68) scale(1,1.0)" class="bl">3</text>
<text transform="translate(805.17,338.68) scale(1,1.0)" class="bl">3</text>
<text transform="translate(818.92,336.73) scale(1,1.0)" class="bl">5</text>
<text transform="translate(832.67,338.68) scale(1,1.0)" class="bl">3</text>
<text transform="translate(846.42,338.68) scale(1,1.0)" class="bl">3</text>
<text transform="translate(860.17,331.85) scale(1,1.0)" class="bl">10</text>
<line x1="496.14" x2="496.14" y1="44" y2="359.25" stroke="#333" stroke-width="0.56"/>
<line x1="880.95" x2="880.95" y1="44" y2="359.25" stroke="#333" stroke-width="0.86"/>
<line x1="496.14" x2="880.95" y1="44" y2="44" stroke="#333" stroke-width="0.55"/>
<line x1="496.14" x2="880.95" y1="359.25" y2="359.25" stroke="#333" stroke-width="0.68"/>
<line x1="492.7" x2="495.8" y1="345.2" y2="345.2" class="tick"/>
<text transform="translate(490.6,349.1) scale(1,1.0)" class="yl">0</text>
<line x1="492.7" x2="495.8" y1="306.22" y2="306.22" class="tick"/>
<text transform="translate(490.6,310.12) scale(1,1.0)" class="yl">40</text>
<line x1="492.7" x2="495.8" y1="267.23" y2="267.23" class="tick"/>
<text transform="translate(490.6,271.13) scale(1,1.0)" class="yl">80</text>
<line x1="492.7" x2="495.8" y1="228.25" y2="228.25" class="tick"/>
<text transform="translate(490.6,232.15) scale(1,1.0)" class="yl">120</text>
<line x1="492.7" x2="495.8" y1="189.26" y2="189.26" class="tick"/>
<text transform="translate(490.6,193.16) scale(1,1.0)" class="yl">160</text>
<line x1="492.7" x2="495.8" y1="150.28" y2="150.28" class="tick"/>
<text transform="translate(490.6,154.18) scale(1,1.0)" class="yl">200</text>
<line x1="492.7" x2="495.8" y1="111.3" y2="111.3" class="tick"/>
<text transform="translate(490.6,115.2) scale(1,1.0)" class="yl">240</text>
<line x1="492.7" x2="495.8" y1="72.31" y2="72.31" class="tick"/>
<text transform="translate(490.6,76.21) scale(1,1.0)" class="yl">280</text>
<line x1="550.8" x2="550.8" y1="359.4" y2="362.5" class="tick"/>
<text transform="translate(551.3,372.3) scale(1,1.0)" class="xl">0.5</text>
<line x1="642.47" x2="642.47" y1="359.4" y2="362.5" class="tick"/>
<text transform="translate(642.97,372.3) scale(1,1.0)" class="xl">1.5</text>
<line x1="734.13" x2="734.13" y1="359.4" y2="362.5" class="tick"/>
<text transform="translate(734.63,372.3) scale(1,1.0)" class="xl">2</text>
<line x1="825.8" x2="825.8" y1="359.4" y2="362.5" class="tick"/>
<text transform="translate(826.3,372.3) scale(1,1.0)" class="xl">3</text>
<text transform="translate(688.6,385.9) scale(1,1.08)" class="axt">Fold Change</text>
<text transform="translate(467.7,201.65) rotate(-90) scale(1,1.08)" class="axt" style="font-size:11.5px">Sample size ( <tspan font-style="italic">n</tspan> )</text>
<text transform="translate(506.92,32.3) scale(1,0.92)" style="font-family:'Liberation Serif',serif;font-size:14.10px" class="ttl">ϕ</text>
<text transform="translate(518.21,32.3) scale(1,0.92)" style="font-family:'Liberation Sans',sans-serif;font-size:14.10px" class="ttl">=</text>
<text transform="translate(530.15,32.3) scale(1,0.92)" style="font-family:'Liberation Sans',sans-serif;font-size:14.10px" class="ttl">0.1,</text>
<text transform="translate(556.36,32.3) scale(1,0.92)" style="font-family:'Liberation Serif',serif;font-size:14.10px" class="ttl">μ</text>
<text transform="translate(564.08,34.7) scale(1,0.92)" style="font-family:'Liberation Sans',sans-serif;font-size:10.72px" class="ttl">0</text>
<text transform="translate(573.51,32.3) scale(1,0.92)" style="font-family:'Liberation Sans',sans-serif;font-size:14.10px" class="ttl">=</text>
<text transform="translate(585.33,32.3) scale(1,0.92)" style="font-family:'Liberation Sans',sans-serif;font-size:14.10px" class="ttl">10</text>
<text x="461.17" y="33.2" class="tag">(d)</text>
<line x1="495.8" x2="880.8" y1="703.36" y2="703.36" class="gmin"/>
<line x1="495.8" x2="880.8" y1="664.37" y2="664.37" class="gmin"/>
<line x1="495.8" x2="880.8" y1="625.39" y2="625.39" class="gmin"/>
<line x1="495.8" x2="880.8" y1="586.41" y2="586.41" class="gmin"/>
<line x1="495.8" x2="880.8" y1="547.42" y2="547.42" class="gmin"/>
<line x1="495.8" x2="880.8" y1="508.44" y2="508.44" class="gmin"/>
<line x1="495.8" x2="880.8" y1="469.45" y2="469.45" class="gmin"/>
<line x1="495.8" x2="880.8" y1="430.47" y2="430.47" class="gmin"/>
<line x1="495.8" x2="880.8" y1="722.4" y2="722.4" class="gmaj"/>
<line x1="495.8" x2="880.8" y1="683.42" y2="683.42" class="gmaj"/>
<line x1="495.8" x2="880.8" y1="644.43" y2="644.43" class="gmaj"/>
<line x1="495.8" x2="880.8" y1="605.45" y2="605.45" class="gmaj"/>
<line x1="495.8" x2="880.8" y1="566.46" y2="566.46" class="gmaj"/>
<line x1="495.8" x2="880.8" y1="527.48" y2="527.48" class="gmaj"/>
<line x1="495.8" x2="880.8" y1="488.5" y2="488.5" class="gmaj"/>
<line x1="495.8" x2="880.8" y1="449.51" y2="449.51" class="gmaj"/>
<line x1="550.8" x2="550.8" y1="421.3" y2="736.6" class="gmaj"/>
<line x1="642.47" x2="642.47" y1="421.3" y2="736.6" class="gmaj"/>
<line x1="734.13" x2="734.13" y1="421.3" y2="736.6" class="gmaj"/>
<line x1="825.8" x2="825.8" y1="421.3" y2="736.6" class="gmaj"/>
<rect x="509.55" y="708.76" width="14.15" height="13.64" fill="#F8766D"/>
<rect x="523.3" y="708.76" width="14.15" height="13.64" fill="#B79F00"/>
<rect x="537.05" y="700.96" width="14.15" height="21.44" fill="#00BA38"/>
<rect x="550.8" y="708.76" width="14.15" height="13.64" fill="#00BFC4"/>
<rect x="564.55" y="709.73" width="14.15" height="12.67" fill="#619CFF"/>
<rect x="578.3" y="670.75" width="13.75" height="51.65" fill="#F564E3"/>
<rect x="601.22" y="690.24" width="14.15" height="32.16" fill="#F8766D"/>
<rect x="614.97" y="690.24" width="14.15" height="32.16" fill="#B79F00"/>
<rect x="628.72" y="670.75" width="14.15" height="51.65" fill="#00BA38"/>
<rect x="642.47" y="689.26" width="14.15" height="33.14" fill="#00BFC4"/>
<rect x="656.22" y="689.26" width="14.15" height="33.14" fill="#619CFF"/>
<rect x="669.97" y="599.6" width="13.75" height="122.8" fill="#F564E3"/>
<rect x="692.88" y="711.68" width="14.15" height="10.72" fill="#F8766D"/>
<rect x="706.63" y="711.68" width="14.15" height="10.72" fill="#B79F00"/>
<rect x="720.38" y="704.86" width="14.15" height="17.54" fill="#00BA38"/>
<rect x="734.13" y="711.68" width="14.15" height="10.72" fill="#00BFC4"/>
<rect x="747.88" y="711.68" width="14.15" height="10.72" fill="#619CFF"/>
<rect x="761.63" y="682.44" width="13.75" height="39.96" fill="#F564E3"/>
<rect x="784.55" y="718.5" width="14.15" height="3.9" fill="#F8766D"/>
<rect x="798.3" y="718.5" width="14.15" height="3.9" fill="#B79F00"/>
<rect x="812.05" y="715.58" width="14.15" height="6.82" fill="#00BA38"/>
<rect x="825.8" y="718.5" width="14.15" height="3.9" fill="#00BFC4"/>
<rect x="839.55" y="718.5" width="14.15" height="3.9" fill="#619CFF"/>
<rect x="853.3" y="706.81" width="13.75" height="15.59" fill="#F564E3"/>
<text transform="translate(516.42,705.16) scale(1,1.0)" class="bl">14</text>
<text transform="translate(530.17,705.16) scale(1,1.0)" class="bl">14</text>
<text transform="translate(543.92,697.36) scale(1,1.0)" class="bl">22</text>
<text transform="translate(557.67,705.16) scale(1,1.0)" class="bl">14</text>
<text transform="translate(571.42,706.13) scale(1,1.0)" class="bl">13</text>
<text transform="translate(585.17,667.15) scale(1,1.0)" class="bl">53</text>
<text transform="translate(608.09,686.64) scale(1,1.0)" class="bl">33</text>
<text transform="translate(621.84,686.64) scale(1,1.0)" class="bl">33</text>
<text transform="translate(635.59,667.15) scale(1,1.0)" class="bl">53</text>
<text transform="translate(649.34,685.66) scale(1,1.0)" class="bl">34</text>
<text transform="translate(663.09,685.66) scale(1,1.0)" class="bl">34</text>
<text transform="translate(676.84,596) scale(1,1.0)" class="bl">126</text>
<text transform="translate(699.76,708.08) scale(1,1.0)" class="bl">11</text>
<text transform="translate(713.51,708.08) scale(1,1.0)" class="bl">11</text>
<text transform="translate(727.26,701.26) scale(1,1.0)" class="bl">18</text>
<text transform="translate(741.01,708.08) scale(1,1.0)" class="bl">11</text>
<text transform="translate(754.76,708.08) scale(1,1.0)" class="bl">11</text>
<text transform="translate(768.51,678.84) scale(1,1.0)" class="bl">41</text>
<text transform="translate(791.42,714.9) scale(1,1.0)" class="bl">4</text>
<text transform="translate(805.17,714.9) scale(1,1.0)" class="bl">4</text>
<text transform="translate(818.92,711.98) scale(1,1.0)" class="bl">7</text>
<text transform="translate(832.67,714.9) scale(1,1.0)" class="bl">4</text>
<text transform="translate(846.42,714.9) scale(1,1.0)" class="bl">4</text>
<text transform="translate(860.17,703.21) scale(1,1.0)" class="bl">16</text>
<line x1="496.14" x2="496.14" y1="421.37" y2="736.47" stroke="#333" stroke-width="0.56"/>
<line x1="880.95" x2="880.95" y1="421.37" y2="736.47" stroke="#333" stroke-width="0.86"/>
<line x1="496.14" x2="880.95" y1="421.37" y2="421.37" stroke="#333" stroke-width="0.6"/>
<line x1="496.14" x2="880.95" y1="736.47" y2="736.47" stroke="#333" stroke-width="0.98"/>
<line x1="492.7" x2="495.8" y1="722.4" y2="722.4" class="tick"/>
<text transform="translate(490.6,726.3) scale(1,1.0)" class="yl">0</text>
<line x1="492.7" x2="495.8" y1="683.42" y2="683.42" class="tick"/>
<text transform="translate(490.6,687.32) scale(1,1.0)" class="yl">40</text>
<line x1="492.7" x2="495.8" y1="644.43" y2="644.43" class="tick"/>
<text transform="translate(490.6,648.33) scale(1,1.0)" class="yl">80</text>
<line x1="492.7" x2="495.8" y1="605.45" y2="605.45" class="tick"/>
<text transform="translate(490.6,609.35) scale(1,1.0)" class="yl">120</text>
<line x1="492.7" x2="495.8" y1="566.46" y2="566.46" class="tick"/>
<text transform="translate(490.6,570.36) scale(1,1.0)" class="yl">160</text>
<line x1="492.7" x2="495.8" y1="527.48" y2="527.48" class="tick"/>
<text transform="translate(490.6,531.38) scale(1,1.0)" class="yl">200</text>
<line x1="492.7" x2="495.8" y1="488.5" y2="488.5" class="tick"/>
<text transform="translate(490.6,492.4) scale(1,1.0)" class="yl">240</text>
<line x1="492.7" x2="495.8" y1="449.51" y2="449.51" class="tick"/>
<text transform="translate(490.6,453.41) scale(1,1.0)" class="yl">280</text>
<line x1="550.8" x2="550.8" y1="736.6" y2="739.7" class="tick"/>
<text transform="translate(551.3,749.5) scale(1,1.0)" class="xl">0.5</text>
<line x1="642.47" x2="642.47" y1="736.6" y2="739.7" class="tick"/>
<text transform="translate(642.97,749.5) scale(1,1.0)" class="xl">1.5</text>
<line x1="734.13" x2="734.13" y1="736.6" y2="739.7" class="tick"/>
<text transform="translate(734.63,749.5) scale(1,1.0)" class="xl">2</text>
<line x1="825.8" x2="825.8" y1="736.6" y2="739.7" class="tick"/>
<text transform="translate(826.3,749.5) scale(1,1.0)" class="xl">3</text>
<text transform="translate(688.6,763.1) scale(1,1.08)" class="axt">Fold Change</text>
<text transform="translate(467.7,578.95) rotate(-90) scale(1,1.08)" class="axt" style="font-size:11.5px">Sample size ( <tspan font-style="italic">n</tspan> )</text>
<text transform="translate(506.92,409.7) scale(1,0.92)" style="font-family:'Liberation Serif',serif;font-size:14.10px" class="ttl">ϕ</text>
<text transform="translate(518.21,409.7) scale(1,0.92)" style="font-family:'Liberation Sans',sans-serif;font-size:14.10px" class="ttl">=</text>
<text transform="translate(530.15,409.7) scale(1,0.92)" style="font-family:'Liberation Sans',sans-serif;font-size:14.10px" class="ttl">0.2,</text>
<text transform="translate(556.36,409.7) scale(1,0.92)" style="font-family:'Liberation Serif',serif;font-size:14.10px" class="ttl">μ</text>
<text transform="translate(564.08,412.1) scale(1,0.92)" style="font-family:'Liberation Sans',sans-serif;font-size:10.72px" class="ttl">0</text>
<text transform="translate(573.51,409.7) scale(1,0.92)" style="font-family:'Liberation Sans',sans-serif;font-size:14.10px" class="ttl">=</text>
<text transform="translate(585.33,409.7) scale(1,0.92)" style="font-family:'Liberation Sans',sans-serif;font-size:14.10px" class="ttl">10</text>
<text x="461.17" y="410.6" class="tag">(e)</text>
<line x1="495.8" x2="880.8" y1="1080.56" y2="1080.56" class="gmin"/>
<line x1="495.8" x2="880.8" y1="1041.57" y2="1041.57" class="gmin"/>
<line x1="495.8" x2="880.8" y1="1002.59" y2="1002.59" class="gmin"/>
<line x1="495.8" x2="880.8" y1="963.61" y2="963.61" class="gmin"/>
<line x1="495.8" x2="880.8" y1="924.62" y2="924.62" class="gmin"/>
<line x1="495.8" x2="880.8" y1="885.64" y2="885.64" class="gmin"/>
<line x1="495.8" x2="880.8" y1="846.65" y2="846.65" class="gmin"/>
<line x1="495.8" x2="880.8" y1="807.67" y2="807.67" class="gmin"/>
<line x1="495.8" x2="880.8" y1="1099.6" y2="1099.6" class="gmaj"/>
<line x1="495.8" x2="880.8" y1="1060.62" y2="1060.62" class="gmaj"/>
<line x1="495.8" x2="880.8" y1="1021.63" y2="1021.63" class="gmaj"/>
<line x1="495.8" x2="880.8" y1="982.65" y2="982.65" class="gmaj"/>
<line x1="495.8" x2="880.8" y1="943.66" y2="943.66" class="gmaj"/>
<line x1="495.8" x2="880.8" y1="904.68" y2="904.68" class="gmaj"/>
<line x1="495.8" x2="880.8" y1="865.7" y2="865.7" class="gmaj"/>
<line x1="495.8" x2="880.8" y1="826.71" y2="826.71" class="gmaj"/>
<line x1="550.8" x2="550.8" y1="798.5" y2="1113.6" class="gmaj"/>
<line x1="642.47" x2="642.47" y1="798.5" y2="1113.6" class="gmaj"/>
<line x1="734.13" x2="734.13" y1="798.5" y2="1113.6" class="gmaj"/>
<line x1="825.8" x2="825.8" y1="798.5" y2="1113.6" class="gmaj"/>
<rect x="509.55" y="1074.26" width="14.15" height="25.34" fill="#F8766D"/>
<rect x="523.3" y="1074.26" width="14.15" height="25.34" fill="#B79F00"/>
<rect x="537.05" y="1060.62" width="14.15" height="38.98" fill="#00BA38"/>
<rect x="550.8" y="1073.29" width="14.15" height="26.31" fill="#00BFC4"/>
<rect x="564.55" y="1074.26" width="14.15" height="25.34" fill="#619CFF"/>
<rect x="578.3" y="1005.06" width="13.75" height="94.54" fill="#F564E3"/>
<rect x="601.22" y="1034.3" width="14.15" height="65.3" fill="#F8766D"/>
<rect x="614.97" y="1033.33" width="14.15" height="66.27" fill="#B79F00"/>
<rect x="628.72" y="994.34" width="14.15" height="105.26" fill="#00BA38"/>
<rect x="642.47" y="1031.38" width="14.15" height="68.22" fill="#00BFC4"/>
<rect x="656.22" y="1032.35" width="14.15" height="67.25" fill="#619CFF"/>
<rect x="669.97" y="853.03" width="13.75" height="246.57" fill="#F564E3"/>
<rect x="692.88" y="1077.18" width="14.15" height="22.42" fill="#F8766D"/>
<rect x="706.63" y="1077.18" width="14.15" height="22.42" fill="#B79F00"/>
<rect x="720.38" y="1063.54" width="14.15" height="36.06" fill="#00BA38"/>
<rect x="734.13" y="1076.21" width="14.15" height="23.39" fill="#00BFC4"/>
<rect x="747.88" y="1076.21" width="14.15" height="23.39" fill="#619CFF"/>
<rect x="761.63" y="1013.84" width="13.75" height="85.76" fill="#F564E3"/>
<rect x="784.55" y="1090.83" width="14.15" height="8.77" fill="#F8766D"/>
<rect x="798.3" y="1090.83" width="14.15" height="8.77" fill="#B79F00"/>
<rect x="812.05" y="1084.98" width="14.15" height="14.62" fill="#00BA38"/>
<rect x="825.8" y="1090.83" width="14.15" height="8.77" fill="#00BFC4"/>
<rect x="839.55" y="1090.83" width="14.15" height="8.77" fill="#619CFF"/>
<rect x="853.3" y="1065.49" width="13.75" height="34.11" fill="#F564E3"/>
<text transform="translate(516.42,1070.66) scale(1,1.0)" class="bl">26</text>
<text transform="translate(530.17,1070.66) scale(1,1.0)" class="bl">26</text>
<text transform="translate(543.92,1057.02) scale(1,1.0)" class="bl">40</text>
<text transform="translate(557.67,1069.69) scale(1,1.0)" class="bl">27</text>
<text transform="translate(571.42,1070.66) scale(1,1.0)" class="bl">26</text>
<text transform="translate(585.17,1001.46) scale(1,1.0)" class="bl">97</text>
<text transform="translate(608.09,1030.7) scale(1,1.0)" class="bl">67</text>
<text transform="translate(621.84,1029.73) scale(1,1.0)" class="bl">68</text>
<text transform="translate(635.59,990.74) scale(1,1.0)" class="bl">108</text>
<text transform="translate(649.34,1027.78) scale(1,1.0)" class="bl">70</text>
<text transform="translate(663.09,1028.75) scale(1,1.0)" class="bl">69</text>
<text transform="translate(676.84,849.43) scale(1,1.0)" class="bl">253</text>
<text transform="translate(699.76,1073.58) scale(1,1.0)" class="bl">23</text>
<text transform="translate(713.51,1073.58) scale(1,1.0)" class="bl">23</text>
<text transform="translate(727.26,1059.94) scale(1,1.0)" class="bl">37</text>
<text transform="translate(741.01,1072.61) scale(1,1.0)" class="bl">24</text>
<text transform="translate(754.76,1072.61) scale(1,1.0)" class="bl">24</text>
<text transform="translate(768.51,1010.24) scale(1,1.0)" class="bl">88</text>
<text transform="translate(791.42,1087.23) scale(1,1.0)" class="bl">9</text>
<text transform="translate(805.17,1087.23) scale(1,1.0)" class="bl">9</text>
<text transform="translate(818.92,1081.38) scale(1,1.0)" class="bl">15</text>
<text transform="translate(832.67,1087.23) scale(1,1.0)" class="bl">9</text>
<text transform="translate(846.42,1087.23) scale(1,1.0)" class="bl">9</text>
<text transform="translate(860.17,1061.89) scale(1,1.0)" class="bl">35</text>
<line x1="496.14" x2="496.14" y1="798.36" y2="1113.5" stroke="#333" stroke-width="0.56"/>
<line x1="880.95" x2="880.95" y1="798.36" y2="1113.5" stroke="#333" stroke-width="0.86"/>
<line x1="496.14" x2="880.95" y1="798.36" y2="798.36" stroke="#333" stroke-width="0.65"/>
<line x1="496.14" x2="880.95" y1="1113.5" y2="1113.5" stroke="#333" stroke-width="0.87"/>
<line x1="492.7" x2="495.8" y1="1099.6" y2="1099.6" class="tick"/>
<text transform="translate(490.6,1103.5) scale(1,1.0)" class="yl">0</text>
<line x1="492.7" x2="495.8" y1="1060.62" y2="1060.62" class="tick"/>
<text transform="translate(490.6,1064.52) scale(1,1.0)" class="yl">40</text>
<line x1="492.7" x2="495.8" y1="1021.63" y2="1021.63" class="tick"/>
<text transform="translate(490.6,1025.53) scale(1,1.0)" class="yl">80</text>
<line x1="492.7" x2="495.8" y1="982.65" y2="982.65" class="tick"/>
<text transform="translate(490.6,986.55) scale(1,1.0)" class="yl">120</text>
<line x1="492.7" x2="495.8" y1="943.66" y2="943.66" class="tick"/>
<text transform="translate(490.6,947.56) scale(1,1.0)" class="yl">160</text>
<line x1="492.7" x2="495.8" y1="904.68" y2="904.68" class="tick"/>
<text transform="translate(490.6,908.58) scale(1,1.0)" class="yl">200</text>
<line x1="492.7" x2="495.8" y1="865.7" y2="865.7" class="tick"/>
<text transform="translate(490.6,869.6) scale(1,1.0)" class="yl">240</text>
<line x1="492.7" x2="495.8" y1="826.71" y2="826.71" class="tick"/>
<text transform="translate(490.6,830.61) scale(1,1.0)" class="yl">280</text>
<line x1="550.8" x2="550.8" y1="1113.6" y2="1116.7" class="tick"/>
<text transform="translate(551.3,1126.5) scale(1,1.0)" class="xl">0.5</text>
<line x1="642.47" x2="642.47" y1="1113.6" y2="1116.7" class="tick"/>
<text transform="translate(642.97,1126.5) scale(1,1.0)" class="xl">1.5</text>
<line x1="734.13" x2="734.13" y1="1113.6" y2="1116.7" class="tick"/>
<text transform="translate(734.63,1126.5) scale(1,1.0)" class="xl">2</text>
<line x1="825.8" x2="825.8" y1="1113.6" y2="1116.7" class="tick"/>
<text transform="translate(826.3,1126.5) scale(1,1.0)" class="xl">3</text>
<text transform="translate(688.6,1140.1) scale(1,1.08)" class="axt">Fold Change</text>
<text transform="translate(467.7,956.05) rotate(-90) scale(1,1.08)" class="axt" style="font-size:11.5px">Sample size ( <tspan font-style="italic">n</tspan> )</text>
<text transform="translate(506.92,786.9) scale(1,0.92)" style="font-family:'Liberation Serif',serif;font-size:14.10px" class="ttl">ϕ</text>
<text transform="translate(518.21,786.9) scale(1,0.92)" style="font-family:'Liberation Sans',sans-serif;font-size:14.10px" class="ttl">=</text>
<text transform="translate(530.15,786.9) scale(1,0.92)" style="font-family:'Liberation Sans',sans-serif;font-size:14.10px" class="ttl">0.5,</text>
<text transform="translate(556.36,786.9) scale(1,0.92)" style="font-family:'Liberation Serif',serif;font-size:14.10px" class="ttl">μ</text>
<text transform="translate(564.08,789.3) scale(1,0.92)" style="font-family:'Liberation Sans',sans-serif;font-size:10.72px" class="ttl">0</text>
<text transform="translate(573.51,786.9) scale(1,0.92)" style="font-family:'Liberation Sans',sans-serif;font-size:14.10px" class="ttl">=</text>
<text transform="translate(585.33,786.9) scale(1,0.92)" style="font-family:'Liberation Sans',sans-serif;font-size:14.10px" class="ttl">10</text>
<text x="461.17" y="787.8" class="tag">(f)</text>
<text transform="translate(892.8,529.6) scale(1,1.08)" class="legt">Covariates</text>
<rect x="893.3" y="537.6" width="16.5" height="16.1" fill="#F8766D"/>
<text x="916.6" y="549.65" class="legl">none</text>
<rect x="893.3" y="555.65" width="16.5" height="16.1" fill="#B79F00"/>
<text x="916.6" y="567.7" class="legl">N0(0, 1) and N1(0, 1.5)</text>
<rect x="893.3" y="573.7" width="16.5" height="16.1" fill="#00BA38"/>
<text x="916.6" y="585.75" class="legl">N0(0, 1) and N1(1.5, 1)</text>
<rect x="893.3" y="591.75" width="16.5" height="16.1" fill="#00BFC4"/>
<text x="916.6" y="603.8" class="legl">N0(40, 5) and N1(42, 5)</text>
<rect x="893.3" y="609.8" width="16.5" height="16.1" fill="#619CFF"/>
<text x="916.6" y="621.85" class="legl">N0(40, 2) and N1(40, 5)</text>
<rect x="893.3" y="627.85" width="16.5" height="16.1" fill="#F564E3"/>
<text x="916.6" y="639.9" class="legl">N0(30, 3) and N1(40, 3)</text>
</svg></body></html>
